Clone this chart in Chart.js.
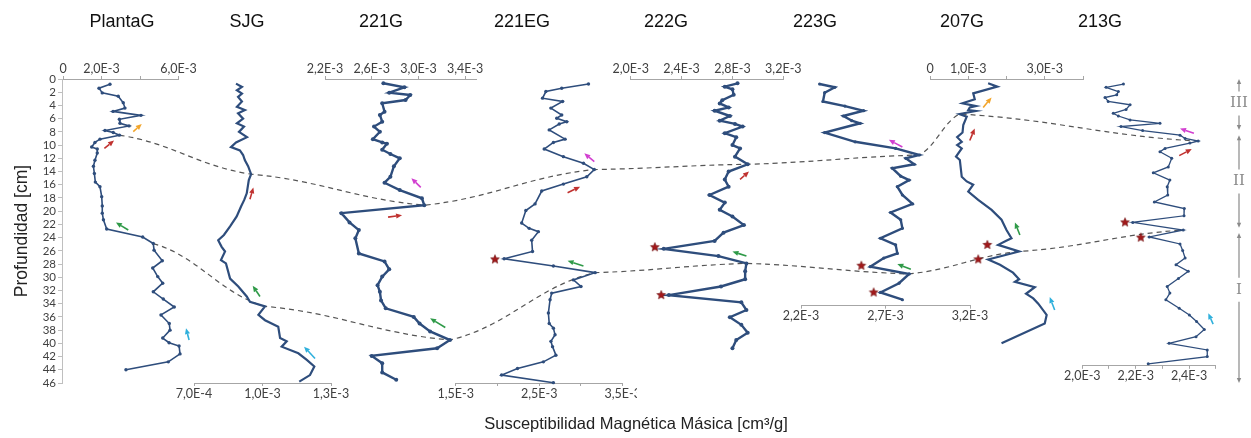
<!DOCTYPE html>
<html lang="es">
<head>
<meta charset="UTF-8">
<title>Susceptibilidad magnética másica - perfiles</title>
<script src="https://cdn.jsdelivr.net/npm/chart.js"></script>
<style>
  body { margin: 0; background: #fff; }
  #wrap { position: relative; width: 1251px; height: 438px; overflow: hidden; }
  #wrap canvas { position: absolute; top: 0; }
</style>
<script>
// testigos
const cores = ['PlantaG', 'SJG', '221G', '221EG', '222G', '223G', '207G', '213G'];

// profundidad (cm) y susceptibilidad (x 1e-3 cm3/g) de cada testigo
const plantaGDepth = [0.8,1.4,2.1,2.6,3.6,4.4,4.9,5.5,6.1,6.7,7.1,7.8,8.1,8.5,9.1,9.6,10.3,10.6,11.2,12.3,13.2,14.3,15.6,16.3,17.8,19.2,20.3,21.3,22.7,23.9,24.9,25.9,27.5,28.6,29.9,30.9,32.2,33.3,34.5,35.7,37.0,38.0,39.2,39.9,40.4,41.6,42.8,44.0];
const plantaGChi   = [2.44,1.87,2.04,2.87,3.13,3.22,2.60,4.05,2.93,2.96,3.43,2.18,2.61,2.93,1.92,1.66,1.49,1.78,1.78,1.66,1.58,1.63,1.68,1.92,2.01,2.04,2.04,2.10,2.27,4.14,4.69,4.73,5.16,4.66,4.92,5.18,4.69,5.21,5.78,5.09,5.52,5.56,5.18,5.51,6.03,6.08,5.47,3.27];

const sjgDepth = [0.7,1.2,1.7,2.2,2.7,3.4,4.2,4.7,5.2,6.0,6.7,7.2,8.0,8.8,9.6,10.3,10.8,11.5,12.3,13.2,14.4,15.3,17.3,18.3,19.3,20.8,22.3,23.6,24.4,25.4,26.1,27.4,27.9,30.2,31.4,32.9,33.7,34.4,35.7,36.5,37.5,39.2,39.7,40.5,41.5,42.5,43.5,44.8,45.8];
const sjgChi   = [0.884,0.910,0.888,0.910,0.893,0.910,0.888,0.923,0.893,0.915,0.888,0.919,0.897,0.932,0.884,0.862,0.901,0.915,0.923,0.937,0.950,0.940,0.931,0.920,0.906,0.887,0.858,0.831,0.806,0.821,0.836,0.818,0.840,0.858,0.894,0.931,0.945,1.011,0.982,1.011,1.069,1.077,1.106,1.084,1.157,1.194,1.227,1.208,1.161];

const c221GDepth = [0.65,1.26,2.07,2.42,3.18,3.68,4.95,5.45,6.46,7.2,8.0,9.1,9.6,9.8,10.7,11.35,12.0,13.2,14.8,15.7,16.8,18.05,19.1,20.3,21.7,22.85,24.1,26.4,27.6,28.8,29.9,31.2,32.2,33.5,34.7,36.0,37.0,38.2,39.5,40.75,41.9,43.0,44.4,45.5];
const c221GChi   = [2.70,2.88,2.75,2.93,2.89,2.69,2.71,2.67,2.69,2.62,2.67,2.61,2.69,2.73,2.69,2.76,2.84,2.79,2.76,2.71,2.84,3.03,3.05,2.34,2.41,2.49,2.46,2.49,2.71,2.75,2.69,2.65,2.67,2.68,2.72,2.96,3.01,3.10,3.27,3.16,2.60,2.69,2.69,2.81];

const c221EGDepth = [0.76,1.4,1.9,2.9,3.4,4.4,5.45,5.95,6.46,6.8,7.7,9.1,9.6,10.6,11.75,12.75,13.7,14.8,15.9,16.95,18.9,19.9,21.8,22.6,23.1,24.4,26.1,27.2,28.3,29.3,30.4,31.4,32.4,33.4,35.4,37.0,37.7,38.7,39.7,40.5,41.8,42.8,43.8,44.8,45.95];
const c221EGChi   = [3.09,2.77,2.58,2.54,2.78,2.64,2.77,2.71,2.83,2.74,2.62,2.81,2.67,2.56,2.79,3.03,3.16,3.07,2.79,2.53,2.45,2.34,2.29,2.38,2.49,2.41,2.42,2.08,2.67,3.17,2.91,3.00,2.65,2.63,2.61,2.62,2.67,2.69,2.64,2.66,2.70,2.55,2.24,2.05,2.67];

const c222GDepth = [0.65,1.16,1.56,2.4,3.2,3.7,4.3,4.8,5.6,6.3,6.8,7.2,8.2,8.8,10.0,10.5,11.75,12.9,14.0,15.2,16.3,17.55,18.7,19.8,20.8,22.1,23.25,24.5,25.7,26.8,27.9,29.1,30.3,31.4,32.7,33.8,34.95,36.05,37.2,38.4,39.5,40.75];
const c222GChi   = [2.84,2.74,2.80,2.81,2.72,2.70,2.77,2.66,2.78,2.70,2.82,2.88,2.74,2.83,2.80,2.86,2.82,2.92,2.77,2.74,2.77,2.62,2.74,2.70,2.80,2.89,2.73,2.66,2.26,2.69,2.91,2.90,2.90,2.71,2.30,2.87,2.91,2.78,2.87,2.92,2.83,2.80];

const c223GDepth = [0.76,1.26,2.07,3.4,4.1,4.8,5.6,6.3,6.7,8.1,9.5,10.5,11.5,12.0,12.9,13.5,14.7,15.3,16.3,17.55,18.9,20.2,21.3,22.6,24.1,25.1,26.4,27.1,28.4,29.5,30.9,32.3,33.4];
const c223GChi   = [2.31,2.40,2.34,2.33,2.46,2.57,2.45,2.50,2.55,2.34,2.52,2.76,2.90,2.82,2.87,2.74,2.79,2.84,2.77,2.80,2.86,2.73,2.79,2.80,2.67,2.76,2.77,2.69,2.61,2.84,2.78,2.67,2.80];

const c207GDepth = [0.65,1.16,2.17,3.07,3.68,4.1,4.3,4.7,4.85,5.3,5.7,6.96,8.1,8.8,9.5,10.0,10.5,11.75,12.25,14.8,15.5,16.0,17.05,18.3,19.8,21.3,22.85,24.1,24.5,25.1,26.1,27.3,28.1,29.3,30.3,30.7,31.5,32.5,33.2,34.0,35.7,37.0,40.0];
const c207GChi   = [1.52,1.76,1.13,1.17,0.85,1.20,1.04,1.00,1.20,0.77,0.96,0.87,0.85,0.71,0.83,0.71,0.83,0.68,0.78,0.83,0.96,1.13,1.00,1.26,1.61,1.87,2.00,2.13,1.98,1.78,2.33,1.52,1.83,2.17,2.33,2.22,2.74,2.51,2.70,2.83,3.05,3.00,1.87];

const c213GDepth = [0.76,1.26,1.9,2.4,2.8,3.4,3.9,4.6,5.2,5.6,6.2,6.7,7.2,7.8,8.5,9.0,9.4,9.7,10.5,11.0,12.0,13.3,14.2,15.3,16.3,17.55,18.6,19.6,20.7,21.7,22.85,23.9,24.96,25.95,27.1,28.1,29.1,30.2,31.4,32.4,33.4,34.7,35.7,36.7,37.9,39.0,40.0,41.0,42.0,43.1];
const c213GChi   = [2.154,2.089,2.135,2.129,2.085,2.097,2.179,2.164,2.116,2.135,2.179,2.291,2.145,2.226,2.366,2.385,2.434,2.403,2.310,2.291,2.335,2.322,2.266,2.328,2.318,2.320,2.270,2.382,2.381,2.189,2.378,2.251,2.366,2.376,2.385,2.351,2.397,2.360,2.318,2.328,2.313,2.363,2.401,2.428,2.457,2.426,2.325,2.468,2.468,2.247];

const depths = [plantaGDepth, sjgDepth, c221GDepth, c221EGDepth, c222GDepth, c223GDepth, c207GDepth, c213GDepth];
const chis   = [plantaGChi, sjgChi, c221GChi, c221EGChi, c222GChi, c223GChi, c207GChi, c213GChi];

// marcas del eje de susceptibilidad (x 1e-3) y cuales llevan rotulo
const axisTicks = [[0, 2, 4, 6], [0.7, 1.0, 1.3], [2.2, 2.6, 3.0, 3.4], [1.5, 2.0, 2.5, 3.0, 3.5],
                   [2.0, 2.4, 2.8, 3.2], [2.2, 2.7, 3.2], [0, 1, 2, 3, 4], [2.0, 2.1, 2.2, 2.3, 2.4, 2.5]];
const axisLabelled = [[0, 2, 6], [0.7, 1.0, 1.3], [2.2, 2.6, 3.0, 3.4], [1.5, 2.5, 3.5],
                      [2.0, 2.4, 2.8, 3.2], [2.2, 2.7, 3.2], [0, 1, 3], [2.0, 2.2, 2.4]];
const axisRange = [[0, 6], [0.7, 1.3], [2.2, 3.5], [1.5, 3.5], [2.0, 3.2], [2.2, 3.2], [0, 4], [2.0, 2.5]];

// niveles correlacionados: profundidad del punto en cada testigo
const tieUpper = [8.5, 14.4, 19.1, 13.7, 12.9, 11.5, 5.3, 9.4];
const tieLower = [24.9, 34.4, 39.5, 29.3, 27.9, 29.5, 26.1, 22.85];

// flechas: [testigo, prof. origen, chi origen, prof. punta, chi punta, tipo]
const arrows = [
  [0, 7.97, 3.65, 6.8, 4.09, 'orange'], [0, 10.5, 2.15, 9.3, 2.65, 'red'], [0, 22.85, 3.39, 21.7, 2.75, 'green'], [0, 39.5, 6.55, 37.7, 6.39, 'cyan'],
  [1, 18.2, 0.945, 16.4, 0.960, 'red'], [1, 32.9, 0.989, 31.3, 0.957, 'green'], [1, 42.3, 1.230, 40.5, 1.182, 'cyan'],
  [2, 16.4, 3.02, 15.0, 2.94, 'magenta'], [2, 20.9, 2.74, 20.6, 2.86, 'red'], [2, 37.6, 3.23, 36.2, 3.10, 'green'],
  [3, 12.5, 3.16, 11.25, 3.04, 'magenta'], [3, 17.2, 2.84, 16.3, 2.99, 'red'], [3, 28.3, 3.03, 27.5, 2.84, 'green'],
  [4, 15.2, 2.86, 14.0, 2.93, 'red'], [4, 26.8, 2.91, 26.1, 2.80, 'green'],
  [5, 10.3, 2.80, 9.2, 2.72, 'magenta'], [5, 28.8, 2.85, 28.0, 2.77, 'green'],
  [6, 4.3, 1.39, 2.8, 1.61, 'orange'], [6, 9.3, 1.04, 7.5, 1.17, 'red'], [6, 23.6, 2.35, 21.7, 2.22, 'green'], [6, 34.95, 3.26, 33.0, 3.13, 'cyan'],
  [7, 8.2, 2.418, 7.5, 2.366, 'magenta'], [7, 11.6, 2.363, 10.6, 2.41, 'red'], [7, 37.1, 2.49, 35.45, 2.472, 'cyan']
];

// estrellas: [testigo, profundidad, chi]
const stars = [
  [3, 27.3, 1.97], [4, 25.45, 2.19], [4, 32.7, 2.24], [5, 28.25, 2.557], [5, 32.3, 2.63],
  [6, 25.1, 1.50], [6, 27.3, 1.26], [7, 21.7, 2.16], [7, 24.0, 2.219]
];

// unidades: [rotulo, desde, hasta, prof. del rotulo]
const units = [['III', 0, 7.7, 3.7], ['II', 8.5, 22.5, 15.5], ['I', 23.3, 46, 31.9]];

// ---- disposicion ----
const W = 1251, H = 438, TOP = 79, PX = (383 - 79) / 46, AXH = 20;
const frames = [
  { x0: 63, x1: 178.5, axis: 'top', depthMax: 46 },
  { x0: 194, x1: 331, axis: 'bottom', depthMax: 46 },
  { x0: 325, x1: 476.8, axis: 'top', depthMax: 46 },
  { x0: 455.7, x1: 622.7, axis: 'bottom', depthMax: 46, mRight: 14 },
  { x0: 630.7, x1: 783.3, axis: 'top', depthMax: 46 },
  { x0: 801, x1: 970, axis: 'bottom', depthMax: 34.3 },
  { x0: 930, x1: 1083, axis: 'top', depthMax: 46 },
  { x0: 1082.3, x1: 1215.8, axis: 'bottom', depthMax: 43.4 }
];
const titleX = [122, 247, 381, 522, 666, 815, 962, 1100];
const lineWidths = [1.6, 2.2, 2.4, 1.6, 2.4, 2.4, 2.2, 1.3];
const pointSizes = [1.7, 0, 2, 1.7, 2, 1.6, 0, 1.5];
const arrowColors = { orange: '#f2a52b', red: '#c0312f', green: '#2f9a48', cyan: '#2fb0dc', magenta: '#d23fd0' };
const LINE = '#2e4d7c';
const TICK_FONT = { family: 'Lato, "Liberation Sans", sans-serif', size: 12.5 };

const fmt = v => v === 0 ? '0' : (v * 1e-3).toExponential(1).replace('.', ',').toUpperCase();

function drawArrow(ctx, x0, y0, x1, y1, color) {
  const a = Math.atan2(y1 - y0, x1 - x0), hl = 6, hw = 2.6;
  ctx.save();
  ctx.strokeStyle = color; ctx.fillStyle = color; ctx.lineWidth = 1.6;
  ctx.beginPath();
  ctx.moveTo(x0, y0);
  ctx.lineTo(x1 - hl * Math.cos(a), y1 - hl * Math.sin(a));
  ctx.stroke();
  ctx.beginPath();
  ctx.moveTo(x1, y1);
  ctx.lineTo(x1 - hl * Math.cos(a) + hw * Math.sin(a), y1 - hl * Math.sin(a) - hw * Math.cos(a));
  ctx.lineTo(x1 - hl * Math.cos(a) - hw * Math.sin(a), y1 - hl * Math.sin(a) + hw * Math.cos(a));
  ctx.closePath(); ctx.fill();
  ctx.restore();
}

function starIcon(r) {
  const c = document.createElement('canvas');
  const s = Math.ceil(2 * r + 2);
  c.width = c.height = s;
  const g = c.getContext('2d');
  g.beginPath();
  for (let k = 0; k < 10; k++) {
    const rr = k % 2 ? r * 0.45 : r, a = -Math.PI / 2 + k * Math.PI / 5;
    g.lineTo(s / 2 + rr * Math.cos(a), s / 2 + rr * Math.sin(a));
  }
  g.closePath();
  g.fillStyle = '#a3191b'; g.fill();
  g.strokeStyle = '#6b0d0d'; g.lineWidth = 0.6; g.stroke();
  return c;
}

// flechas de cada perfil
const arrowPlugin = {
  id: 'arrowMarks',
  afterDatasetsDraw(chart, args, opts) {
    const { x, y } = chart.scales;
    arrows.filter(a => a[0] === opts.core).forEach(([, d0, v0, d1, v1, kind]) => {
      drawArrow(chart.ctx, x.getPixelForValue(v0), y.getPixelForValue(d0),
                x.getPixelForValue(v1), y.getPixelForValue(d1), arrowColors[kind]);
    });
  }
};

const panelCharts = [];
const panelLeft = [];

window.onload = function () {
  const wrap = document.getElementById('wrap');
  const star = starIcon(4.6);

  cores.forEach((name, i) => {
    const f = frames[i];
    const mL = 30, mR = f.mRight || 30;
    const left = Math.floor(f.x0) - mL;
    const width = Math.ceil(f.x1) + mR - left;
    const bottomPx = TOP + f.depthMax * PX;
    const padding = {
      left: f.x0 - left,
      right: left + width - f.x1,
      top: f.axis === 'top' ? TOP - AXH : TOP,
      bottom: f.axis === 'top' ? H - bottomPx : H - bottomPx - AXH
    };
    const cv = document.createElement('canvas');
    cv.width = width; cv.height = H;
    cv.style.left = left + 'px';
    wrap.appendChild(cv);
    panelLeft.push(left);

    panelCharts.push(new Chart(cv.getContext('2d'), {
      type: 'scatter',
      data: {
        datasets: [
          {
            data: stars.filter(s => s[0] === i).map(s => ({ x: s[2], y: s[1] })),
            pointStyle: star, pointRadius: 5, showLine: false, clip: false
          },
          {
            data: depths[i].map((d, k) => ({ x: chis[i][k], y: d })),
            showLine: true, borderColor: LINE, backgroundColor: LINE,
            borderWidth: lineWidths[i], pointRadius: pointSizes[i], pointBorderWidth: 0,
            tension: 0, clip: false
          }
        ]
      },
      options: {
        responsive: false, animation: false, events: [],
        layout: { padding, autoPadding: false },
        plugins: { legend: { display: false }, tooltip: { enabled: false }, arrowMarks: { core: i } },
        scales: {
          x: {
            type: 'linear', position: f.axis, min: axisRange[i][0], max: axisRange[i][1],
            afterBuildTicks(s) { s.ticks = axisTicks[i].map(v => ({ value: v })); },
            afterFit(s) { s.height = AXH; s.paddingLeft = 0; s.paddingRight = 0; },
            ticks: {
              autoSkip: false, maxRotation: 0, padding: 0, color: '#404040', font: TICK_FONT,
              callback: v => axisLabelled[i].some(t => Math.abs(t - v) < 1e-9) ? fmt(v) : ''
            },
            grid: { drawOnChartArea: false, tickLength: 3, color: '#a6a6a6' },
            border: { color: '#a6a6a6' }
          },
          y: { type: 'linear', display: false, reverse: true, min: 0, max: f.depthMax }
        }
      },
      plugins: [arrowPlugin]
    }));
  });

  // punto de un testigo mas cercano a una profundidad, en pixeles de la pagina
  function tiePoint(i, depth) {
    const ds = depths[i];
    let k = 0;
    ds.forEach((d, j) => { if (Math.abs(d - depth) < Math.abs(ds[k] - depth)) k = j; });
    const sc = panelCharts[i].scales;
    return { x: panelLeft[i] + sc.x.getPixelForValue(chis[i][k]), y: sc.y.getPixelForValue(ds[k]) };
  }

  const overlay = {
    id: 'overlay',
    afterDraw(chart) {
      const ctx = chart.ctx, y = chart.scales.y;
      ctx.save();

      // titulos de los perfiles
      ctx.fillStyle = '#111';
      ctx.font = '18px "Liberation Sans", Arial, sans-serif';
      ctx.textAlign = 'center'; ctx.textBaseline = 'middle';
      cores.forEach((name, i) => ctx.fillText(name, titleX[i], 22));

      // lineas de correlacion
      ctx.strokeStyle = '#555'; ctx.lineWidth = 1.2; ctx.setLineDash([5, 4]);
      [tieUpper, tieLower].forEach(tie => {
        const pts = tie.map((d, i) => tiePoint(i, d));
        ctx.beginPath();
        ctx.moveTo(pts[0].x, pts[0].y);
        for (let k = 1; k < pts.length; k++) {
          const p = pts[k - 1], q = pts[k], dx = q.x - p.x, dy = q.y - p.y;
          ctx.bezierCurveTo(p.x + dx * 0.4, p.y + dy * 0.2, q.x - dx * 0.4, q.y - dy * 0.2, q.x, q.y);
        }
        ctx.stroke();
      });
      ctx.setLineDash([]);

      // unidades I, II, III
      const ux = 1239, gap = 12;
      ctx.strokeStyle = '#8a8a8a'; ctx.fillStyle = '#8a8a8a'; ctx.lineWidth = 1.2;
      ctx.font = '15px "DejaVu Serif", serif';
      const head = (yy, dir) => {
        ctx.beginPath();
        ctx.moveTo(ux, yy); ctx.lineTo(ux - 2.2, yy - 5 * dir); ctx.lineTo(ux + 2.2, yy - 5 * dir);
        ctx.closePath(); ctx.fill();
      };
      units.forEach(([label, d0, d1, dl]) => {
        const y0 = y.getPixelForValue(d0), y1 = y.getPixelForValue(d1), yl = y.getPixelForValue(dl);
        ctx.beginPath();
        ctx.moveTo(ux, y0 + 4); ctx.lineTo(ux, yl - gap);
        ctx.moveTo(ux, yl + gap); ctx.lineTo(ux, y1 - 4);
        ctx.stroke();
        head(y0, -1); head(y1, 1);
        ctx.fillText(label, ux, yl);
      });
      ctx.restore();
    }
  };

  new Chart(document.getElementById('base').getContext('2d'), {
    type: 'scatter',
    data: { datasets: [] },
    options: {
      responsive: false, animation: false, events: [],
      layout: { padding: { top: TOP, right: 41, left: 0, bottom: 0 }, autoPadding: false },
      plugins: { legend: { display: false }, tooltip: { enabled: false } },
      scales: {
        x: {
          type: 'linear', min: 0, max: 1,
          afterFit(s) { s.height = H - 383; s.paddingLeft = 0; s.paddingRight = 0; },
          ticks: { display: false }, grid: { display: false }, border: { display: false },
          title: {
            display: true, text: 'Susceptibilidad Magnética Másica [cm³/g]', color: '#222',
            font: { family: '"Liberation Sans", Arial, sans-serif', size: 16.5 }, padding: { top: 0, bottom: 4 }
          }
        },
        y: {
          type: 'linear', reverse: true, min: 0, max: 46,
          afterFit(s) { s.width = 62; s.paddingTop = 0; s.paddingBottom = 0; },
          ticks: { stepSize: 2, autoSkip: false, padding: 2, color: '#404040',
                   font: { family: 'Lato, "Liberation Sans", sans-serif', size: 11.5 } },
          grid: { drawOnChartArea: false, tickLength: 4, color: '#bfbfbf' },
          border: { color: '#bfbfbf' },
          title: {
            display: true, text: 'Profundidad [cm]', color: '#222',
            font: { family: '"Liberation Sans", Arial, sans-serif', size: 17.5 }, padding: { top: 12, bottom: 0 }
          }
        }
      }
    },
    plugins: [overlay]
  });
};
</script>
</head>
<body>
<div id="wrap"><canvas id="base" width="1251" height="438"></canvas></div>
</body>
</html>
